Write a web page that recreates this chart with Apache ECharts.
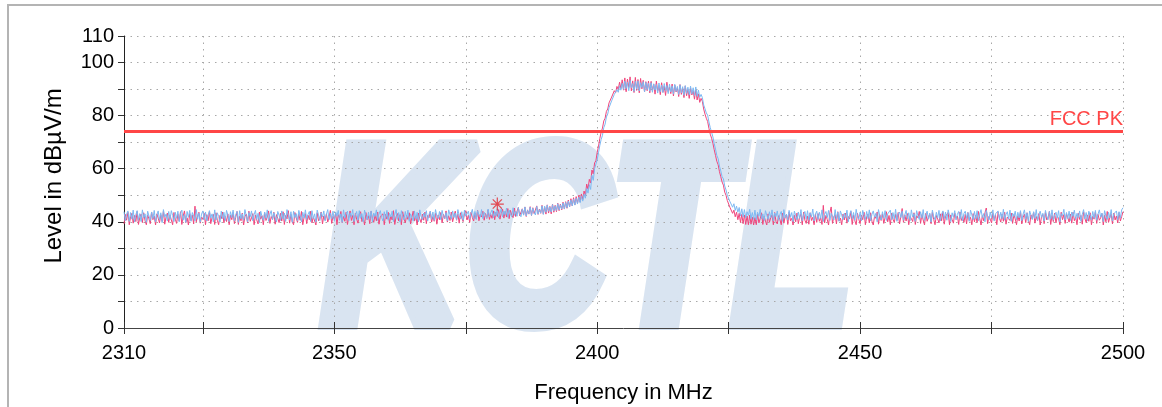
<!DOCTYPE html>
<html>
<head>
<meta charset="utf-8">
<script src="https://cdn.jsdelivr.net/npm/echarts@6.0.0/dist/echarts.min.js"></script>
<style>
html, body { margin: 0; padding: 0; background: #fff; }
#chart { width: 1162px; height: 407px; }
#frame { position: absolute; left: 7px; top: 4px; right: 0; bottom: 0;
  border-top: 2px solid #b4b4b4; border-left: 2px solid #b4b4b4; pointer-events: none; }
</style>
</head>
<body>
<div id="chart"></div>
<div id="frame"></div>
<script>
// sweep: 2310 .. 2500 MHz, one reading every 0.25 MHz
var freqStartMHz = 2310;
var freqStepMHz = 0.25;

// blue trace, dBuV/m (one row = 10 MHz)
var traceBlue = [
  43.8,40.4,42.9,44.1,40.2,43.5,41.0,44.4,39.9,42.7,44.2,40.6,43.1,40.1,44.5,41.5,43.0,39.8,44.0,42.2,
  40.5,43.7,41.2,44.3,40.0,42.6,44.1,40.7,43.4,39.7,44.6,41.8,42.9,40.3,43.9,40.9,44.2,42.4,40.1,43.6,
  41.3,44.0,40.0,43.2,44.4,40.6,42.8,39.8,43.9,41.7,44.3,40.2,43.5,42.1,40.4,44.6,41.0,43.3,39.9,42.9,
  44.1,40.8,43.7,40.3,42.5,44.2,41.4,43.0,40.0,44.5,40.7,43.4,42.0,39.9,44.0,41.2,43.6,40.5,44.3,42.6,
  40.1,43.8,41.6,44.4,40.3,42.7,43.9,39.8,44.2,41.1,43.0,40.6,44.6,42.3,40.0,43.5,41.9,44.1,40.4,42.8,
  44.3,40.9,43.2,39.7,44.0,42.0,40.6,43.7,41.3,44.5,40.2,42.9,44.2,40.8,43.4,41.5,39.9,43.9,42.4,40.5,
  44.1,41.0,43.3,40.2,44.6,42.5,40.7,43.8,39.8,44.0,41.6,43.1,40.4,44.3,42.2,40.0,43.6,41.4,44.5,40.9,
  42.8,43.9,40.1,44.2,41.2,43.0,39.9,44.4,42.6,40.5,43.5,41.8,44.1,40.3,42.9,44.6,40.8,43.2,41.1,44.0,
  40.2,43.7,42.1,44.3,40.6,43.0,39.8,44.5,41.5,42.8,44.0,40.4,43.4,41.9,44.6,40.1,42.6,43.9,40.7,44.2,
  41.3,43.1,40.0,44.4,42.4,40.8,43.6,41.0,44.1,39.9,43.3,42.0,44.5,40.5,42.9,44.2,41.6,40.3,43.8,41.2,
  44.3,40.6,43.2,41.8,44.0,40.1,42.7,44.6,40.9,43.5,39.9,44.2,42.3,40.7,43.9,41.4,44.4,40.2,43.0,42.5,
  40.4,44.1,41.1,43.6,40.0,44.5,42.0,40.8,43.3,41.7,44.2,40.3,42.8,44.0,41.0,43.7,40.5,44.6,42.2,41.3,
  43.9,40.8,44.3,42.0,41.2,43.5,40.4,44.5,42.6,41.0,44.1,41.6,43.3,40.7,44.6,42.3,41.1,43.8,40.6,44.4,
  42.1,41.5,44.0,41.0,43.2,44.7,41.3,43.9,40.9,44.2,42.7,41.8,44.6,41.2,43.6,42.4,41.4,44.8,41.9,43.4,
  44.5,41.5,43.9,42.2,44.9,41.4,43.2,45.0,41.8,44.1,42.6,45.2,41.7,44.4,42.9,41.9,45.3,42.4,44.0,42.1,
  45.4,42.8,41.9,44.8,42.5,45.6,42.2,44.3,43.0,45.5,42.4,45.1,43.4,42.6,45.8,42.9,44.6,43.3,46.0,42.8,
  45.9,43.6,46.3,44.0,45.6,43.7,46.5,44.1,46.0,44.3,46.8,44.5,46.4,44.8,47.1,44.9,47.3,45.3,47.8,45.7,
  48.2,46.0,48.6,46.3,48.9,46.7,49.3,47.2,49.6,47.8,50.4,48.9,52.6,50.8,54.0,52.2,57.5,55.6,60.0,60.3,
  63.5,66.0,68.8,71.0,72.6,75.5,76.8,79.5,80.6,83.0,83.5,85.6,85.8,88.0,87.6,89.8,88.8,91.2,89.6,92.2,
  89.9,93.0,90.2,92.6,89.4,93.3,90.5,92.1,89.1,92.9,90.0,93.1,89.3,92.4,90.6,92.8,89.0,92.5,89.8,92.2,
  89.2,92.4,88.8,92.0,89.6,91.7,88.5,92.3,89.0,91.5,88.7,92.1,89.4,91.4,88.3,91.9,88.9,91.2,88.1,91.8,
  89.1,91.0,88.0,91.6,88.6,90.9,87.7,91.3,88.4,90.7,87.9,91.1,88.2,90.5,87.6,90.8,87.3,89.6,86.9,88.0,
  86.8,84.0,82.6,81.0,80.2,77.6,75.5,73.8,72.0,69.5,67.4,65.0,63.8,61.0,59.2,57.0,56.2,53.5,52.0,50.0,
  49.8,47.6,47.2,45.5,46.8,44.3,45.9,43.6,45.4,42.2,44.9,41.8,44.6,41.5,43.8,42.4,44.7,41.2,43.5,40.9,
  44.4,40.8,43.6,42.1,44.7,41.1,43.0,40.5,44.2,42.5,40.9,43.8,41.6,44.5,40.3,43.3,42.0,44.1,40.6,42.8,
  43.9,40.2,44.6,41.4,42.9,40.7,44.3,41.8,43.5,40.1,44.0,42.3,40.8,43.7,41.2,44.6,40.4,42.7,43.9,41.0,
  44.2,40.6,43.4,41.9,44.8,40.3,42.9,44.0,40.9,43.6,41.3,44.5,40.1,42.8,43.9,41.6,44.3,40.5,43.2,42.2,
  40.7,44.6,41.1,43.7,40.2,44.1,42.6,40.8,43.3,41.5,44.4,40.0,42.7,44.2,41.2,43.5,40.6,44.7,42.0,41.0,
  43.6,40.4,44.3,42.4,40.9,43.9,41.2,44.5,40.3,42.8,44.1,41.7,43.2,40.0,44.6,42.1,40.7,43.8,41.4,44.2,
  40.5,43.0,42.5,44.4,40.8,43.5,41.0,44.7,40.2,42.9,43.7,41.6,44.0,40.6,42.6,44.3,41.1,43.4,40.4,44.5,
  41.8,43.1,40.2,44.2,42.3,40.9,43.8,41.4,44.6,40.5,42.7,44.0,41.0,43.3,39.9,44.4,42.0,40.8,43.6,41.5,
  44.3,40.3,42.9,44.1,41.2,43.7,40.6,44.5,42.4,40.1,43.4,41.7,44.2,40.7,42.8,43.9,41.0,44.6,40.4,43.2,
  44.0,41.3,43.5,40.2,44.4,42.6,40.8,43.9,41.1,44.2,40.4,42.9,44.6,41.6,43.1,40.0,44.3,42.2,40.7,43.7,
  41.4,44.5,40.3,43.0,42.5,44.1,40.9,43.6,41.2,44.7,40.6,42.8,43.8,41.0,44.4,40.2,43.3,42.0,44.0,40.8,
  43.6,41.5,44.2,40.4,42.9,44.5,41.0,43.4,40.1,44.1,42.4,40.9,43.8,41.3,44.6,40.5,42.7,44.0,41.7,43.2,
  40.3,44.3,42.1,40.8,43.9,41.1,44.5,40.6,42.6,43.6,41.4,44.2,40.0,43.1,42.3,44.7,40.7,43.5,41.2,44.0,
  40.5,43.7,42.0,44.4,40.9,43.2,41.6,44.1,40.2,42.8,44.6,41.1,43.5,40.4,44.0,42.5,40.8,43.9,41.3,44.3,
  40.6,42.9,44.5,41.8,43.3,40.1,44.2,42.2,40.9,43.6,41.4,44.6,40.3,43.0,42.7,44.1,40.8,43.8,41.5,44.5,
  45.3
];

// pink trace, dBuV/m
var tracePink = [
  39.2,42.8,40.6,43.6,38.9,41.9,43.2,39.5,42.4,40.1,43.9,39.0,41.6,42.9,39.7,43.4,40.4,38.9,42.6,41.1,
  39.3,43.7,40.8,42.2,38.8,43.0,41.4,39.6,42.7,40.2,44.0,39.1,41.8,43.3,39.8,42.5,40.7,38.9,43.5,41.0,
  39.4,42.9,40.3,43.8,39.0,42.1,44.1,39.7,41.5,38.8,43.1,40.5,42.6,39.2,45.9,40.0,42.3,43.6,39.5,41.8,
  40.9,43.2,38.9,42.7,40.4,43.9,39.3,41.6,42.8,39.0,43.4,40.6,38.9,42.4,41.2,43.7,39.6,42.0,40.1,43.0,
  38.9,42.5,40.8,43.5,39.3,41.7,43.9,39.0,42.2,40.4,43.3,38.8,41.9,42.9,39.6,44.0,40.2,41.4,43.1,38.9,
  42.6,40.7,39.2,43.7,41.0,42.3,38.9,43.4,40.5,41.8,44.1,39.4,42.0,40.9,43.6,39.1,42.7,41.3,39.7,43.2,
  40.3,43.8,39.0,42.4,41.1,44.2,39.5,42.8,40.0,38.9,43.5,41.5,39.8,42.9,40.6,43.9,38.9,41.7,43.1,39.3,
  42.5,40.8,44.0,39.6,41.9,42.6,38.8,43.4,40.4,41.2,43.7,39.2,42.2,40.7,43.0,39.9,41.6,44.3,39.4,42.1,
  40.9,43.3,38.9,42.7,41.4,43.9,39.7,42.0,40.2,43.6,39.0,41.8,44.1,40.5,42.4,38.9,43.2,41.0,39.5,42.9,
  43.8,40.1,41.5,38.8,43.5,40.8,42.3,39.3,44.0,41.2,39.8,42.6,40.4,43.7,39.1,42.1,41.6,43.0,38.9,42.8,
  41.0,43.6,39.4,42.2,40.7,44.2,39.0,41.9,43.1,40.3,42.7,38.9,43.8,41.3,39.6,42.5,40.9,43.4,39.2,41.7,
  44.0,40.4,42.1,38.8,43.3,41.1,39.7,42.9,40.6,43.7,39.3,42.4,41.5,43.9,39.9,42.0,40.2,43.2,39.1,42.6,
  40.8,43.5,39.6,42.8,41.2,44.1,39.9,42.3,40.5,43.7,40.0,42.1,44.0,40.6,42.9,39.5,43.4,41.4,40.1,43.0,
  44.2,40.7,42.5,39.8,43.6,41.6,40.3,43.3,41.0,44.3,40.4,42.7,41.8,44.0,40.6,43.1,41.3,44.5,40.9,42.8,
  41.3,44.1,40.8,43.6,42.0,44.6,41.0,43.2,44.8,41.4,43.9,41.8,45.0,41.2,44.3,42.5,41.6,45.2,42.0,44.0,
  45.4,42.3,41.7,44.9,42.6,45.6,42.0,44.5,42.9,45.7,42.4,45.3,43.1,42.5,46.0,42.8,44.8,43.2,46.2,42.9,
  45.6,42.9,46.4,43.3,45.8,43.0,46.7,43.6,46.2,43.8,47.0,44.2,46.7,44.5,47.4,44.8,47.6,45.1,48.2,45.6,
  48.7,46.0,49.1,46.4,49.5,46.9,50.0,47.5,50.5,48.4,51.6,50.0,54.2,52.3,56.0,54.6,59.5,58.0,62.2,63.0,
  66.2,68.5,71.4,73.8,75.3,78.0,79.0,81.6,82.5,84.8,84.9,87.0,87.0,89.4,88.6,91.0,89.8,92.6,90.2,93.5,
  89.6,94.2,89.0,93.8,90.6,94.6,89.3,93.1,88.7,94.4,89.5,93.6,88.6,94.0,90.1,93.3,88.9,92.8,89.4,93.0,
  88.6,92.9,89.5,91.8,88.1,93.0,89.2,91.3,87.9,92.4,88.8,91.1,87.6,92.6,89.0,90.8,88.3,91.9,87.4,91.5,
  88.9,90.6,87.2,91.7,88.0,90.3,86.8,91.2,87.5,90.0,86.5,90.4,87.8,89.4,86.2,89.7,85.9,88.2,85.0,86.5,
  85.4,82.5,80.6,79.0,77.8,75.2,73.0,71.5,69.6,67.2,65.0,62.8,61.5,58.9,57.0,55.0,53.8,51.2,50.0,48.0,
  47.6,45.4,45.0,43.2,44.4,41.9,43.6,40.8,43.2,39.7,42.8,39.3,42.6,39.0,42.2,38.9,42.5,39.1,41.8,38.8,
  41.6,38.9,42.9,39.6,41.2,43.4,39.0,42.1,40.3,38.8,43.0,39.8,41.5,42.6,38.9,43.5,40.1,39.2,42.3,40.8,
  38.9,43.2,39.5,41.9,42.8,39.0,43.7,40.4,41.3,38.8,42.5,40.0,43.3,39.3,41.8,42.9,38.9,43.6,40.6,39.4,
  42.2,39.1,43.4,40.5,41.7,38.9,42.8,39.8,43.1,40.2,41.5,39.0,46.2,39.6,42.4,40.9,38.8,43.5,45.6,39.4,
  41.9,42.7,39.2,43.8,40.3,41.4,38.9,42.9,40.7,43.3,39.5,42.0,41.1,43.9,39.0,42.6,40.4,38.9,43.2,41.0,
  39.3,42.5,40.8,43.6,38.9,41.8,42.9,39.6,43.4,40.2,38.8,42.2,41.3,43.7,39.1,42.7,40.5,43.0,39.4,41.6,
  43.8,40.0,42.4,38.9,43.3,41.0,39.7,42.8,40.6,43.5,39.2,41.9,45.0,39.8,42.6,40.3,43.1,38.9,42.0,41.2,
  40.1,43.4,39.0,42.3,41.5,43.9,39.4,42.7,40.7,38.8,43.2,40.2,41.8,42.9,39.3,43.6,40.9,38.9,42.4,41.1,
  39.6,43.0,40.4,43.8,39.1,42.1,41.6,43.5,38.9,42.6,40.8,39.5,43.3,41.3,42.2,39.0,43.7,40.5,41.9,39.8,
  42.8,39.2,43.5,40.6,41.7,38.9,43.1,40.0,42.5,39.7,43.9,41.2,38.8,42.3,40.4,43.4,45.2,39.3,42.0,41.0,
  39.6,43.2,40.8,42.6,38.9,43.7,41.4,39.9,42.9,40.2,43.6,39.1,41.8,42.4,40.5,43.3,39.4,42.7,41.1,38.9,
  42.3,40.3,43.8,39.2,41.6,42.9,39.7,43.4,40.6,38.9,42.6,41.0,43.7,39.5,42.0,40.4,43.1,38.8,41.9,42.8,
  39.3,43.5,40.7,41.5,43.9,39.0,42.4,40.1,43.3,39.6,42.2,41.2,38.9,43.6,40.8,42.7,39.4,43.0,41.6,39.9,
  42.9,39.5,43.6,40.4,41.8,38.9,43.2,40.9,42.4,39.1,43.8,41.3,39.7,42.6,40.2,43.4,38.9,42.1,41.0,43.7,
  39.4,42.8,40.6,41.5,43.1,38.8,42.5,40.0,43.9,39.8,41.7,42.9,39.2,43.3,40.7,42.2,39.6,43.5,40.3,42.0,
  43.8
];

var fccPkLimit = 74;
var markerPoint = [2381, 46.7];

var xTickValues = [2310, 2325, 2350, 2375, 2400, 2425, 2450, 2475, 2500];
var xLabelValues = [2310, 2350, 2400, 2450, 2500];
var yLabelValues = [0, 20, 40, 60, 80, 100, 110];

function toPairs(trace) {
  var out = [];
  for (var i = 0; i < trace.length; i++) {
    out.push([freqStartMHz + i * freqStepMHz, trace[i]]);
  }
  return out;
}

var fontFamily = '"Liberation Sans", Arial, sans-serif';
var wmColor = '#d9e4f1';

var option = {
  animation: false,
  backgroundColor: '#fff',
  textStyle: { fontFamily: fontFamily },
  grid: { left: 124, top: 36, width: 999, height: 292, outerBoundsMode: 'none' },
  graphic: [{
    type: 'text',
    x: 587,
    y: 252,
    scaleX: 0.78,
    z: -10,
    silent: true,
    style: {
      text: 'KCTL',
      font: 'italic bold 256px "Liberation Sans"',
      fill: wmColor,
      stroke: wmColor,
      lineWidth: 14,
      lineJoin: 'round',
      align: 'center',
      verticalAlign: 'middle'
    }
  }],
  xAxis: [{
    type: 'value',
    min: 2310,
    max: 2500,
    name: 'Frequency in MHz',
    nameLocation: 'middle',
    nameGap: 54,
    nameTextStyle: { fontSize: 22, color: '#000' },
    axisLine: { lineStyle: { color: '#444' } },
    axisTick: { customValues: xTickValues, length: 6, lineStyle: { color: '#333' } },
    axisLabel: { customValues: xLabelValues, fontSize: 20, color: '#000', margin: 15,
      formatter: function (v) { return String(v); } },
    splitLine: { show: true, lineStyle: { color: '#a8a8a8', type: [1.5, 5] } }
  }, {
    type: 'value',
    min: 2310,
    max: 2500,
    position: 'bottom',
    axisLine: { show: false },
    axisTick: { customValues: xTickValues, inside: true, length: 6, lineStyle: { color: '#333' } },
    axisLabel: { show: false },
    splitLine: { show: false }
  }],
  yAxis: {
    type: 'value',
    min: 0,
    max: 110,
    interval: 10,
    name: 'Level in dB\u00b5V/m',
    nameLocation: 'middle',
    nameGap: 58,
    nameTextStyle: { fontSize: 24, color: '#000', padding: [0, 0, 0, 12] },
    axisLine: { show: true, lineStyle: { color: '#222' } },
    axisTick: { show: true, length: 6, lineStyle: { color: '#333' } },
    axisLabel: { customValues: yLabelValues, fontSize: 20, color: '#000', margin: 10 },
    splitLine: { show: true, lineStyle: { color: '#a8a8a8', type: [1.5, 5] } }
  },
  series: [{
    type: 'line',
    data: toPairs(tracePink),
    showSymbol: false,
    symbol: 'none',
    sampling: null,
    silent: true,
    z: 3,
    lineStyle: { color: '#f0457c', width: 1 },
    markLine: {
      symbol: 'none',
      silent: true,
      lineStyle: { color: '#ff4646', width: 3, type: 'solid' },
      label: { show: true, position: 'insideEndTop', formatter: 'FCC PK',
        color: '#ff4646', fontSize: 20, distance: [0, 2] },
      data: [{ yAxis: fccPkLimit }]
    }
  }, {
    type: 'line',
    data: toPairs(traceBlue),
    showSymbol: false,
    symbol: 'none',
    silent: true,
    z: 4,
    lineStyle: { color: '#7db9f3', width: 1, opacity: 1 }
  }, {
    type: 'scatter',
    data: [markerPoint],
    symbol: 'path://M6 0L6 12M0 6L12 6M1.76 1.76L10.24 10.24M1.76 10.24L10.24 1.76',
    symbolSize: 13,
    silent: true,
    z: 5,
    itemStyle: { color: 'rgba(0,0,0,0)', borderColor: '#e3232c', borderWidth: 1.2 }
  }]
};

var myChart = echarts.init(document.getElementById('chart'));
myChart.setOption(option);
</script>
</body>
</html>
